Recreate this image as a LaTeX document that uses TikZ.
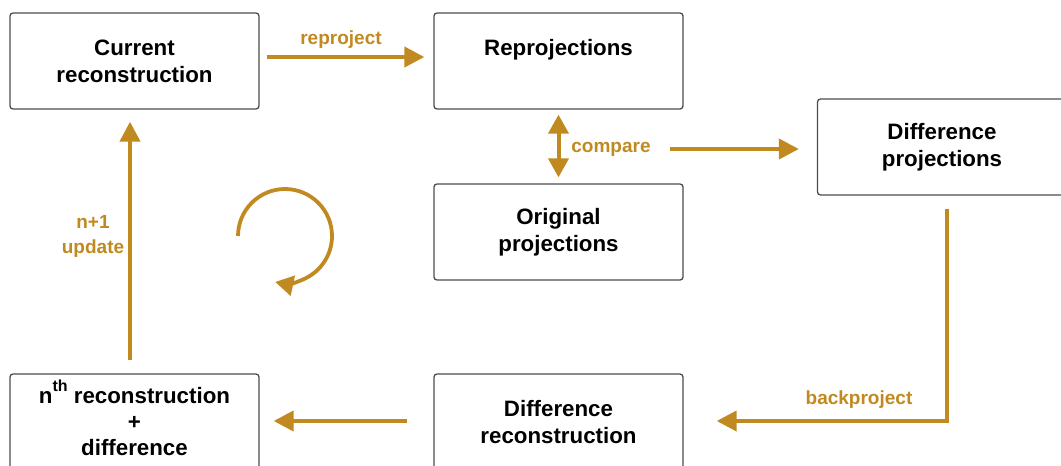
\documentclass[tikz,border=0pt]{standalone}
\usepackage{fontspec}
\setmainfont{Liberation Sans}
\usetikzlibrary{arrows.meta,positioning}
\definecolor{gold}{RGB}{193,138,32}
\definecolor{frame}{RGB}{77,77,77}
\tikzset{
  stage/.style={draw=frame, line width=1.3pt, rounded corners=3pt, fill=white,
    minimum width=249pt, minimum height=96pt, align=center,
    font=\bfseries\fontsize{22.3}{27}\selectfont, text=black, inner sep=0pt},
  flow/.style={draw=gold, line width=4pt, -{Triangle[length=20pt,width=20pt]}},
  twoway/.style={draw=gold, line width=4pt, {Triangle[length=19pt,width=20pt]}-{Triangle[length=19pt,width=20pt]}},
  tag/.style={text=gold, font=\bfseries\fontsize{19}{25}\selectfont, align=center, inner sep=0pt}
}
\newcommand{\ordsup}[1]{\smash{\raisebox{0.55em}{\fontsize{16}{16}\selectfont #1}}}
\begin{document}
\begin{tikzpicture}[x=1pt,y=-1pt]
\clip (0,0) rectangle (1061,466);
\fill[white] (0,0) rectangle (1061,466);

% processing stages
\node[stage] (cur)  at (134.5,61)  {Current\\reconstruction};
\node[stage] (rep)  at (558.5,61)  {Reprojections\\\mbox{}};
\node[stage] (orig) at (558.5,232) {Original\\projections};
\node[stage] (dproj) at (942,147)  {Difference\\projections};
\node[stage] (drec) at (558.5,422) {Difference\\reconstruction};
\node[stage, font=\bfseries\fontsize{22.3}{26}\selectfont] (nth) at (134.5,422)
  {n\ordsup{th} reconstruction\\+\\difference};

% connectors
\draw[flow, shorten <=7pt, shorten >=9pt] ([yshift=4pt]cur.east) -- ([yshift=4pt]rep.west);
\node[tag] (lrep) at (341,40) {reproject};

\draw[twoway, shorten <=5pt, shorten >=6pt] (rep.south) -- (orig.north);
\node[tag] (lcmp) at (611,149) {compare};

\coordinate (cmpstart) at (670,149);
\draw[flow, shorten >=18pt] (cmpstart) -- (cmpstart -| dproj.west);

\draw[flow, shorten <=13pt, shorten >=33pt] ([xshift=5pt]dproj.south) |- ([yshift=1pt]drec.east);
\node[tag] (lback) at (859,400) {backproject};

\draw[flow, shorten <=26pt, shorten >=14pt] ([yshift=1pt]drec.west) -- ([yshift=1pt]nth.east);

\draw[flow, shorten <=13pt, shorten >=12pt] ([xshift=-4.5pt]nth.north) -- ([xshift=-4.5pt]cur.south);
\node[tag] (lupd) at (93,236) {n+1\\update};

% iteration symbol
\draw[draw=gold, line width=3.8pt, -{Triangle[length=18pt,width=20pt]}]
  (238,236) arc[start angle=180, end angle=462, radius=47];
\end{tikzpicture}
\end{document}
